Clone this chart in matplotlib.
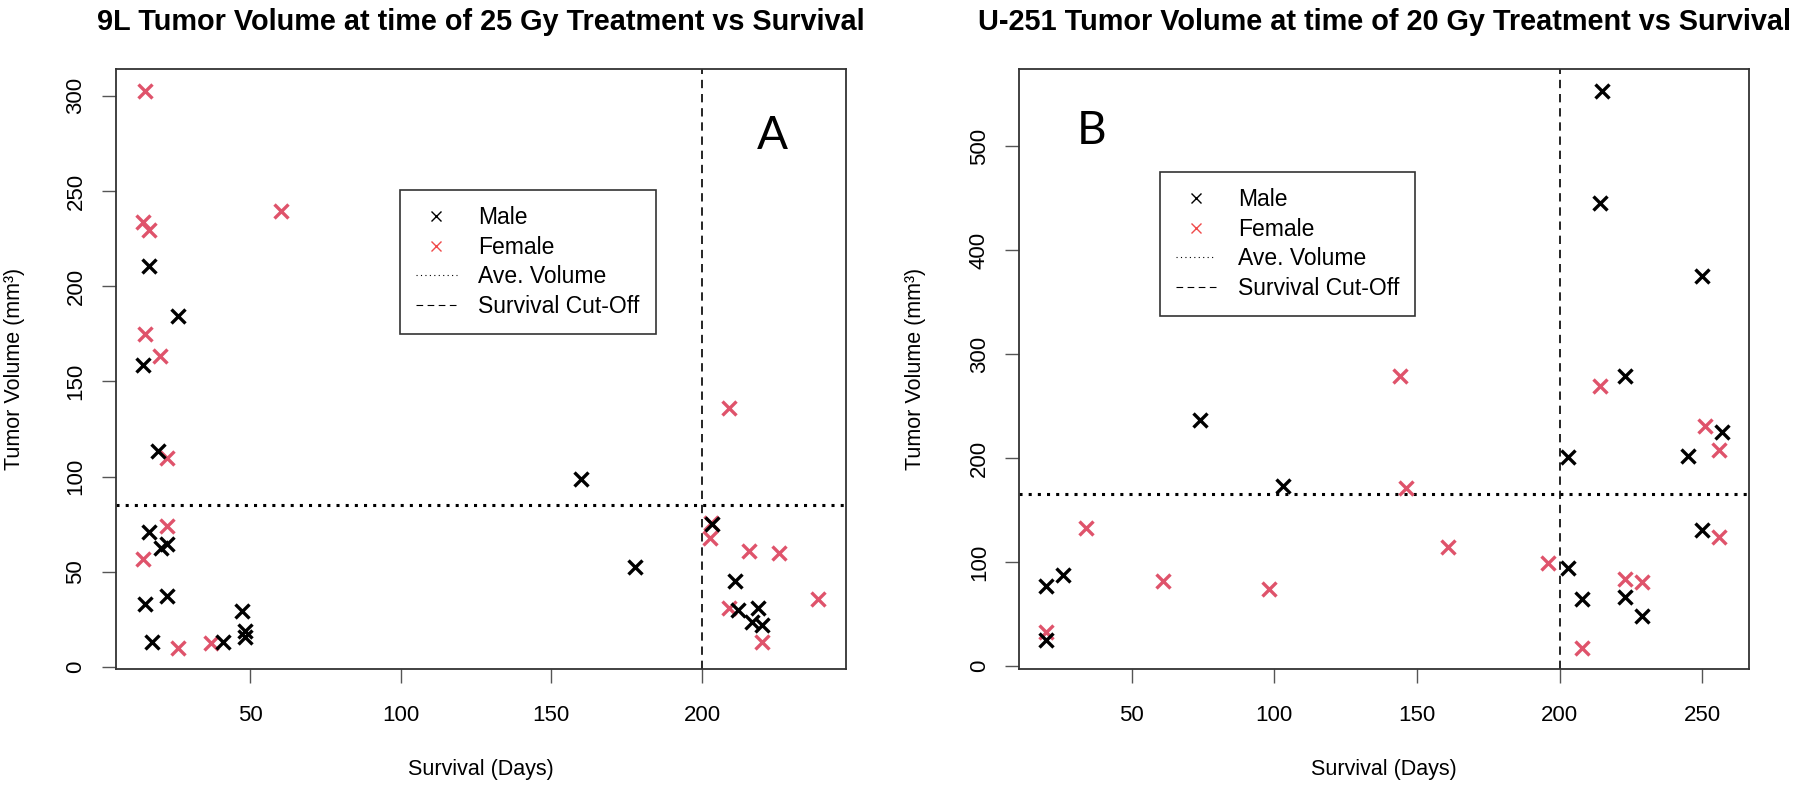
import matplotlib
matplotlib.use('Agg')
import matplotlib.pyplot as plt
from matplotlib.lines import Line2D

# 9L, 25 Gy
l_male_days = [16.5, 26.2, 14.4, 19.3, 16.3, 20.4, 22.4, 22.4, 15.2, 17.4, 41.1, 47.2, 48.4, 48.4,
               159.9, 203.3, 177.8, 211.0, 211.8, 218.7, 216.5, 219.8]
l_male_vol = [210.8, 184.4, 158.7, 113.7, 71.2, 62.5, 64.7, 37.6, 33.2, 13.4, 13.4, 29.6, 19.2, 16.1,
              98.8, 75.2, 52.8, 45.3, 30.1, 31.3, 23.9, 22.2]
l_female_days = [15.2, 14.4, 16.5, 60.2, 15.2, 20.1, 22.4, 22.4, 14.4, 26.2, 37.1,
                 208.8, 202.9, 202.7, 215.7, 225.7, 238.6, 208.8, 219.8]
l_female_vol = [302.2, 233.9, 229.6, 239.5, 175.0, 163.6, 109.7, 74.2, 56.9, 10.0, 12.6,
                136.3, 75.9, 67.7, 61.2, 59.8, 35.7, 31.3, 13.4]
l_ave = 85.4
l_cutoff = 200

# U-251, 20 Gy
r_male_days = [215, 214, 250, 223, 257, 245, 203, 74, 103, 26, 20, 20, 203, 208, 223, 229, 250]
r_male_vol = [553, 445, 375, 279, 225, 202, 201, 236.5, 173, 87.5, 77, 25, 94.5, 64.4, 66.7, 48, 131]
r_female_days = [144, 214, 251, 256, 34, 61, 98, 20, 146, 161, 196, 223, 229, 208, 256]
r_female_vol = [279, 269, 231, 208, 133, 82, 74, 33, 171.5, 114, 99, 84, 81, 17, 124]
r_ave = 165.4
r_cutoff = 200

panels = [
    dict(title='9L Tumor Volume at time of 25 Gy Treatment vs Survival',
         md=l_male_days, mv=l_male_vol, fd=l_female_days, fv=l_female_vol,
         ave=l_ave, cut=l_cutoff, xlim=(5.4, 247.7), ylim=(-1.05, 314),
         xticks=[50, 100, 150, 200], yticks=[0, 50, 100, 150, 200, 250, 300],
         letter='A', letter_pos=(0.899, 0.888), leg_pos=(0.390, 0.798),
         ylab_x=-0.124,
         rect=[115.7 / 1800, 1 - 669.3 / 785, 730 / 1800, 600.3 / 785]),
    dict(title='U-251 Tumor Volume at time of 20 Gy Treatment vs Survival',
         md=r_male_days, mv=r_male_vol, fd=r_female_days, fv=r_female_vol,
         ave=r_ave, cut=r_cutoff, xlim=(10.5, 266.5), ylim=(-3.2, 574),
         xticks=[50, 100, 150, 200, 250], yticks=[0, 100, 200, 300, 400, 500],
         letter='B', letter_pos=(0.100, 0.897), leg_pos=(0.193, 0.828),
         ylab_x=-0.127,
         rect=[1019 / 1800, 1 - 669.3 / 785, 730.3 / 1800, 600.3 / 785]),
]

plt.rcParams['font.family'] = ['Liberation Sans', 'DejaVu Sans']
fig = plt.figure(figsize=(18, 7.85), dpi=100)

red = '#DF536B'
for p in panels:
    ax = fig.add_axes(p['rect'])
    ax.axhline(p['ave'], color='black', lw=2.2, linestyle=(0, (1, 2)))
    ax.axvline(p['cut'], color='black', lw=1.2, linestyle=(0, (5, 3.5)))
    ax.plot(p['fd'], p['fv'], 'x', color=red, ms=9.5, mew=2.4)
    ax.plot(p['md'], p['mv'], 'x', color='black', ms=9.5, mew=2.4)
    ax.set_xlim(p['xlim'])
    ax.set_ylim(p['ylim'])
    ax.set_xticks(p['xticks'])
    ax.set_yticks(p['yticks'])
    ax.tick_params(direction='out', length=10, width=1.0, color='#555555', labelsize=16)
    ax.tick_params(axis='x', pad=16)
    ax.tick_params(axis='y', pad=11)
    for lab in ax.get_yticklabels():
        lab.set_rotation(90)
        lab.set_va('center')
    for s in ax.spines.values():
        s.set_color('#333333')
        s.set_linewidth(1.3)
    ax.set_title(p['title'], fontsize=20.8, fontweight='bold', pad=28)
    ax.set_xlabel('Survival (Days)', fontsize=15.5)
    ax.set_ylabel('Tumor Volume (mm³)', fontsize=15.5)
    ax.xaxis.set_label_coords(0.5, -0.150)
    ax.yaxis.set_label_coords(p['ylab_x'], 0.5)
    ax.text(p['letter_pos'][0], p['letter_pos'][1], p['letter'], transform=ax.transAxes,
            fontsize=33, family=['Lato', 'DejaVu Sans'], ha='center', va='center')
    handles = [
        Line2D([], [], ls='none', marker='x', color='black', ms=7, mew=1.0),
        Line2D([], [], ls='none', marker='x', color='#F04A4A', ms=7, mew=1.0),
        Line2D([], [], color='black', lw=0.8, linestyle=(0, (1, 3))),
        Line2D([], [], color='black', lw=0.8, linestyle=(0, (6, 4))),
    ]
    leg = ax.legend(handles, ['Male', 'Female', 'Ave. Volume', 'Survival Cut-Off'],
                    loc='upper left', bbox_to_anchor=p['leg_pos'], fontsize=16.5,
                    fancybox=False, framealpha=1, edgecolor='#333333',
                    handlelength=1.75, handletextpad=0.95, labelspacing=0.28,
                    borderpad=0.7, borderaxespad=0)
    leg.get_frame().set_linewidth(1.2)

fig.savefig('out.png', dpi=100)
